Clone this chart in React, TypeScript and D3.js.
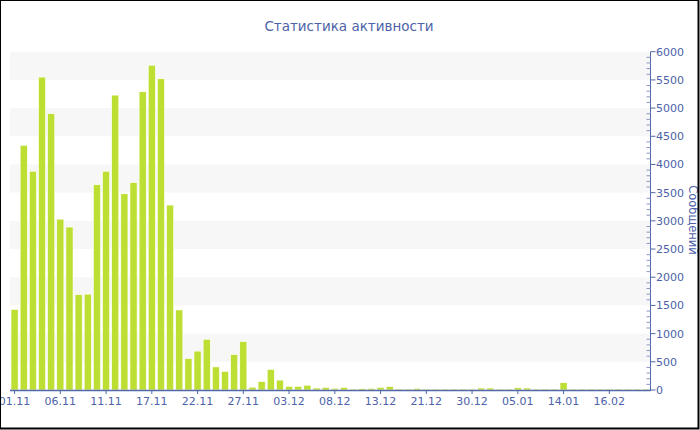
import React from "react";
import * as d3 from "d3";

const categories: string[] = [
  "01.11", "02.11", "03.11", "04.11", "05.11", "06.11", "07.11", "08.11", "09.11", "10.11",
  "11.11", "12.11", "13.11", "14.11", "16.11", "17.11", "18.11", "19.11", "20.11", "21.11",
  "22.11", "23.11", "24.11", "25.11", "26.11", "27.11", "28.11", "29.11", "30.11", "02.12",
  "03.12", "04.12", "05.12", "06.12", "07.12", "08.12", "09.12", "10.12", "11.12", "12.12",
  "13.12", "14.12", "16.12", "18.12", "19.12", "21.12", "23.12", "25.12", "27.12", "28.12",
  "30.12", "31.12", "02.01", "03.01", "04.01", "05.01", "07.01", "09.01", "11.01", "12.01",
  "14.01", "19.01", "25.01", "02.02", "09.02", "16.02", "20.02", "24.02", "01.03", "05.03",
];

const messages: number[] = [
  1430, 4340, 3880, 5550, 4900, 3030, 2890, 1690, 1700, 3640,
  3880, 5230, 3480, 3680, 5290, 5760, 5520, 3280, 1420, 560,
  690, 900, 410, 330, 630, 860, 50, 150, 365, 175,
  65, 65, 85, 35, 45, 30, 45, 18, 24, 30,
  47, 60, 18, 18, 30, 18, 18, 18, 18, 18,
  18, 35, 35, 18, 18, 40, 35, 18, 18, 18,
  130, 18, 18, 18, 18, 18, 18, 18, 18, 18,
];

const yTicks: number[] = [0, 500, 1000, 1500, 2000, 2500, 3000, 3500, 4000, 4500, 5000, 5500, 6000];

const title = "Статистика активности";
const yTitle = "Сообщений";

const TEXT = "#4d62a8";
const AXIS = "#5169ab";
const FONT = "'DejaVu Sans', Verdana, sans-serif";

export default function App() {
  const left = 10;
  const right = 650.5;
  const top = 51.7;
  const bottom = 390;

  const x = d3.scaleBand<string>().domain(categories).range([left, right]).padding(0);
  const step = x.step();
  const bw = step * 0.78;
  const y = d3.scaleLinear().domain([0, 6000]).range([bottom, top]);
  const minor = d3.range(0, 6001, 100).filter((v) => v % 500 !== 0);
  const bands = yTicks.slice(0, -1).filter((_, i) => i % 2 === 1);
  const xTickIdx = categories.map((_, i) => i).filter((i) => i % 5 === 0);

  return (
    <svg
      width={700}
      height={430}
      style={{ position: "absolute", left: 0, top: 0, background: "#fff" }}
      fontFamily={FONT}
    >
      {bands.map((v) => (
        <rect key={v} x={left} y={y(v + 500)} width={right - left} height={y(v) - y(v + 500)} fill="#f7f7f7" />
      ))}
      {messages.map((v, i) => (
        <rect
          key={i}
          x={(x(categories[i]) as number) + (step - bw) / 2}
          y={y(v)}
          width={bw}
          height={bottom - y(v)}
          fill="#bddf33"
          stroke="#ffffff"
          strokeWidth={0.6}
        />
      ))}
      {/* x axis */}
      <line x1={left} x2={right} y1={bottom + 0.5} y2={bottom + 0.5} stroke={AXIS} strokeWidth={1.5} />
      {xTickIdx.map((i) => {
        const cx = (x(categories[i]) as number) + step / 2;
        return (
          <g key={i}>
            <line x1={cx} x2={cx} y1={bottom} y2={bottom + 4} stroke={AXIS} strokeWidth={1} />
            <text x={cx} y={405} textAnchor="middle" fontSize={11} fill={TEXT}>
              {categories[i]}
            </text>
          </g>
        );
      })}
      {/* y axis */}
      <line x1={right} x2={right} y1={top} y2={bottom + 1} stroke={AXIS} strokeWidth={1} />
      {minor.map((v) => (
        <line key={v} x1={right - 4} x2={right} y1={y(v)} y2={y(v)} stroke="#8a97c6" strokeWidth={1} />
      ))}
      {yTicks.map((v) => (
        <g key={v}>
          <line x1={right} x2={right + 5} y1={y(v)} y2={y(v)} stroke={AXIS} strokeWidth={1} />
          <text x={656} y={y(v) + 4} fontSize={11} fill={TEXT}>
            {v}
          </text>
        </g>
      ))}
      <text
        transform={`translate(689,220) rotate(90)`}
        textAnchor="middle"
        fontSize={11.5}
        fill={TEXT}
      >
        {yTitle}
      </text>
      <text x={349} y={31} textAnchor="middle" fontSize={13.5} fill={TEXT}>
        {title}
      </text>
      <rect x={0} y={0} width={698.5} height={428.5} fill="none" stroke="#000" strokeWidth={2} />
    </svg>
  );
}
